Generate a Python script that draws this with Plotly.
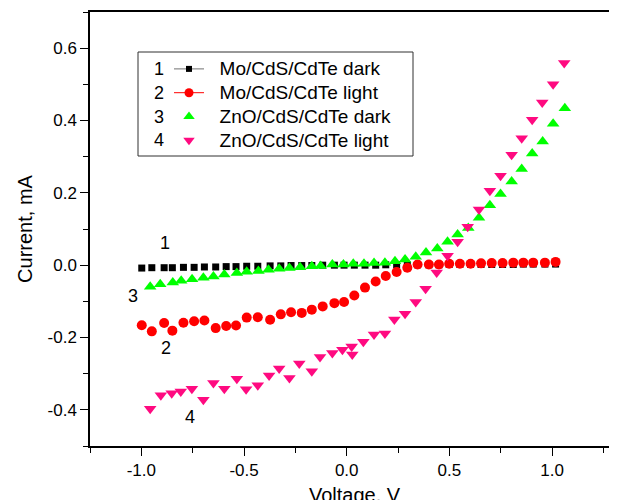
import plotly.graph_objects as go

# ---- data ----
v_mo_dark = [-0.998, -0.949, -0.889, -0.849, -0.795, -0.743, -0.693, -0.638, -0.587, -0.539,
             -0.487, -0.433, -0.373, -0.321, -0.271, -0.219, -0.170, -0.117, -0.060, -0.013,
             0.037, 0.089, 0.141, 0.190, 0.243, 0.295, 0.345, 0.400, 0.449, 0.499,
             0.551, 0.603, 0.654, 0.706, 0.759, 0.811, 0.860, 0.908, 0.965, 1.017]
i_mo_dark = [-0.008, -0.007, -0.007, -0.007, -0.006, -0.006, -0.005, -0.005, -0.004, -0.004,
             -0.003, -0.003, -0.002, -0.002, -0.001, -0.001, -0.001, 0.000, 0.000, 0.000,
             0.000, 0.000, 0.000, 0.001, 0.001, 0.001, 0.001, 0.001, 0.001, 0.002,
             0.002, 0.002, 0.002, 0.002, 0.002, 0.002, 0.003, 0.003, 0.003, 0.003]

v_mo_light = [-0.998, -0.949, -0.889, -0.849, -0.795, -0.743, -0.693, -0.638, -0.587, -0.539,
              -0.487, -0.433, -0.373, -0.321, -0.271, -0.219, -0.170, -0.117, -0.060, -0.013,
              0.037, 0.089, 0.141, 0.190, 0.243, 0.295, 0.345, 0.400, 0.449, 0.499,
              0.551, 0.603, 0.654, 0.706, 0.759, 0.811, 0.860, 0.908, 0.965, 1.017]
i_mo_light = [-0.166, -0.183, -0.160, -0.181, -0.159, -0.155, -0.153, -0.174, -0.168, -0.167,
              -0.145, -0.144, -0.151, -0.136, -0.130, -0.132, -0.123, -0.114, -0.105, -0.102,
              -0.084, -0.062, -0.045, -0.030, -0.019, -0.007, 0.002, 0.002, 0.002, 0.004,
              0.004, 0.004, 0.005, 0.006, 0.006, 0.007, 0.007, 0.007, 0.007, 0.009]

v_zno_dark = [-0.957, -0.908, -0.847, -0.806, -0.753, -0.698, -0.649, -0.596, -0.535, -0.487,
              -0.430, -0.381, -0.329, -0.279, -0.227, -0.170, -0.127, -0.070, -0.016, 0.032,
              0.084, 0.133, 0.186, 0.235, 0.284, 0.336, 0.386, 0.441, 0.491, 0.540,
              0.592, 0.644, 0.697, 0.749, 0.803, 0.852, 0.903, 0.954, 1.005, 1.062]
i_zno_dark = [-0.060, -0.053, -0.048, -0.043, -0.039, -0.035, -0.031, -0.026, -0.022, -0.018,
              -0.016, -0.013, -0.010, -0.008, -0.006, -0.003, -0.002, 0.002, 0.002, 0.004,
              0.004, 0.006, 0.007, 0.011, 0.016, 0.023, 0.035, 0.046, 0.065, 0.085,
              0.103, 0.131, 0.166, 0.197, 0.231, 0.266, 0.309, 0.342, 0.391, 0.434]

v_zno_light = [-0.957, -0.905, -0.852, -0.808, -0.754, -0.698, -0.649, -0.596, -0.535, -0.490,
               -0.433, -0.378, -0.329, -0.279, -0.231, -0.170, -0.130, -0.070, -0.021, 0.024,
               0.027, 0.081, 0.133, 0.186, 0.232, 0.284, 0.336, 0.384, 0.438, 0.491,
               0.540, 0.589, 0.644, 0.697, 0.749, 0.803, 0.852, 0.903, 0.952, 1.005, 1.059]
i_zno_light = [-0.397, -0.360, -0.354, -0.349, -0.342, -0.372, -0.326, -0.342, -0.314, -0.343,
               -0.332, -0.305, -0.286, -0.312, -0.272, -0.293, -0.254, -0.243, -0.234, -0.225,
               -0.247, -0.212, -0.192, -0.189, -0.150, -0.134, -0.102, -0.065, -0.020, 0.026,
               0.065, 0.106, 0.154, 0.206, 0.247, 0.305, 0.351, 0.402, 0.450, 0.500, 0.559]

series_names = ["Mo/CdS/CdTe dark", "Mo/CdS/CdTe light", "ZnO/CdS/CdTe dark", "ZnO/CdS/CdTe light"]
series_numbers = ["1", "2", "3", "4"]
x_tick_vals = [-1.0, -0.5, 0.0, 0.5, 1.0]
x_tick_text = ["-1.0", "-0.5", "0.0", "0.5", "1.0"]
y_tick_vals = [-0.4, -0.2, 0.0, 0.2, 0.4, 0.6]
y_tick_text = ["-0.4", "-0.2", "0.0", "0.2", "0.4", "0.6"]
x_title = "Voltage, V"
y_title = "Current, mA"

# curve label positions (data coords)
label_v = [-0.884, -0.879, -1.040, -0.763]
label_i = [0.061, -0.230, -0.086, -0.421]

FONT = "Arial, 'Liberation Sans', sans-serif"
BLACK = "#000000"
RED = "#FF0000"
GREEN = "#00FF00"
PINK = "#FF0A80"

fig = go.Figure()

styles = [
    dict(symbol="square", size=7, color=BLACK, line_color="#707070", mode="lines+markers"),
    dict(symbol="circle", size=10, color=RED, line_color=RED, mode="lines+markers"),
    dict(symbol="triangle-up", size=11, color=GREEN, line_color=GREEN, mode="markers"),
    dict(symbol="triangle-down", size=11, color=PINK, line_color=PINK, mode="markers"),
]
data = [(v_mo_dark, i_mo_dark), (v_mo_light, i_mo_light),
        (v_zno_dark, i_zno_dark), (v_zno_light, i_zno_light)]

for (vx, iy), st, name in zip(data, styles, series_names):
    fig.add_trace(go.Scatter(
        x=vx, y=iy, mode="markers", name=name, showlegend=False,
        marker=dict(symbol=st["symbol"], size=st["size"], color=st["color"], line=dict(width=0)),
    ))

# legend entries (legend-only samples); text drawn larger than row spacing font
for st, name in zip(styles, series_names):
    fig.add_trace(go.Scatter(
        x=[None], y=[None], mode=st["mode"],
        name="<span style='font-size:19px'>\u00a0\u00a0" + name + "</span>",
        marker=dict(symbol=st["symbol"], size=st["size"] - 1, color=st["color"], line=dict(width=0)),
        line=dict(color=st["line_color"], width=1),
    ))

# curve number labels
for n, lv, li in zip(series_numbers, label_v, label_i):
    fig.add_annotation(x=lv, y=li, xref="x", yref="y", text=n, showarrow=False,
                       xanchor="center", yanchor="middle",
                       font=dict(family=FONT, size=18, color="black"))

# page offset: the browser body has an 8px margin
PAGE_OFF = 8
plot_left, plot_top, plot_w, plot_h = 90, 12, 527, 434
def px_x(p):
    return (p - plot_left) / plot_w
def px_y(p):
    return (plot_top + plot_h - p) / plot_h

fig.add_shape(type="rect", xref="paper", yref="paper",
              x0=px_x(138), x1=px_x(413), y0=px_y(156), y1=px_y(52),
              line=dict(color="#303030", width=1), fillcolor="white", layer="below")
legend_rows = [69, 93, 117, 140]
for n, ry in zip(series_numbers, legend_rows):
    fig.add_annotation(x=px_x(159), y=px_y(ry), xref="paper", yref="paper", text=n,
                       showarrow=False, xanchor="center", yanchor="middle",
                       font=dict(family=FONT, size=18, color="black"))

# x-axis title (sits at the bottom edge, as in the reference)
fig.add_annotation(x=px_x(355), y=px_y(495), xref="paper", yref="paper", text=x_title,
                   showarrow=False, xanchor="center", yanchor="middle",
                   font=dict(family=FONT, size=20, color="black"))

axis_common = dict(
    showline=True, linecolor="black", linewidth=1.5,
    ticks="outside", ticklen=8, tickwidth=1.3, tickcolor="black",
    showgrid=False, zeroline=False,
    tickfont=dict(family=FONT, size=17, color="black"),
    minor=dict(ticks="outside", ticklen=5, tickwidth=1.3, tickcolor="black", showgrid=False),
)

fig.update_xaxes(
    range=[-1.25, 1.316], tickvals=x_tick_vals, ticktext=x_tick_text,
    minor_dtick=0.25, minor_tick0=0, mirror=True,
    automargin=False,
    **axis_common,
)
fig.update_yaxes(
    range=[-0.5, 0.7], tickvals=y_tick_vals, ticktext=y_tick_text,
    minor_dtick=0.1, minor_tick0=0,
    title=dict(text=y_title, font=dict(family=FONT, size=20, color="black"), standoff=10),
    automargin=False,
    **axis_common,
)

fig.update_layout(
    width=617 - PAGE_OFF, height=500 - PAGE_OFF,
    margin=dict(l=plot_left - PAGE_OFF, r=0, t=plot_top - PAGE_OFF, b=54),
    paper_bgcolor="white", plot_bgcolor="white",
    font=dict(family=FONT, size=17, color="black"),
    legend=dict(x=px_x(169), y=px_y(52), xanchor="left", yanchor="top",
                bgcolor="rgba(0,0,0,0)", borderwidth=0, tracegroupgap=0,
                font=dict(family=FONT, size=16, color="black")),
)

fig.write_html("out.html")
